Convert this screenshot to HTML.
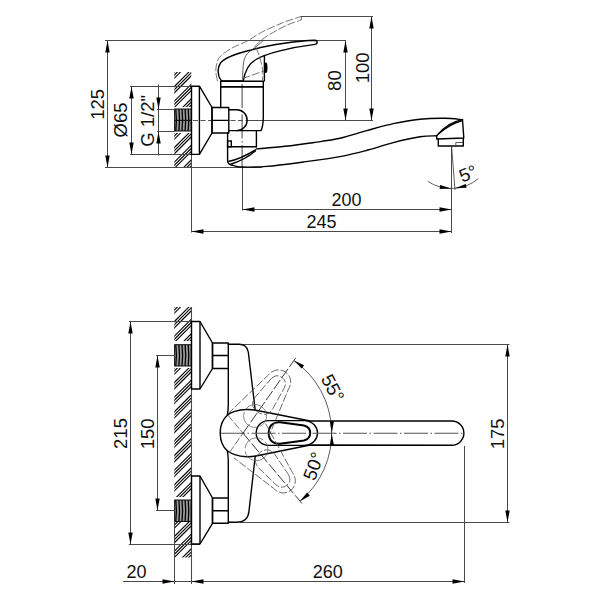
<!DOCTYPE html><html><head><meta charset="utf-8"><style>html,body{margin:0;padding:0;background:#fff;}svg{display:block}.t{stroke:#4a4a4a;stroke-width:1.05;fill:none}.k{stroke:#000;stroke-width:1.4;fill:none;stroke-linejoin:round;stroke-linecap:round}.m{stroke:#000;stroke-width:1.4;fill:none}.d{stroke:#555;stroke-width:0.8;fill:none;stroke-dasharray:8 2}.ts{stroke:#333;stroke-width:0.8;fill:none}.c{stroke:#555;stroke-width:1.1;fill:none;stroke-dasharray:24 2.5 1.5 2.5}.ar{fill:#000;stroke:none}.h line{stroke:#000;stroke-width:1.1}text{font-family:"Liberation Sans", sans-serif;fill:#111}</style></head><body>
<svg width="600" height="600" viewBox="0 0 600 600">
<rect width="600" height="600" fill="#fff"/>
<clipPath id="h1"><rect x="174.3" y="72" width="17.0" height="35"/></clipPath>
<g clip-path="url(#h1)" class="h">
<line x1="169.3" y1="62.400000000000006" x2="196.3" y2="35.400000000000006"/>
<line x1="169.3" y1="65.5" x2="196.3" y2="38.5"/>
<line x1="169.3" y1="68.6" x2="196.3" y2="41.599999999999994"/>
<line x1="169.3" y1="77.0" x2="196.3" y2="50.0"/>
<line x1="169.3" y1="80.1" x2="196.3" y2="53.099999999999994"/>
<line x1="169.3" y1="83.19999999999999" x2="196.3" y2="56.19999999999999"/>
<line x1="169.3" y1="91.60000000000002" x2="196.3" y2="64.60000000000002"/>
<line x1="169.3" y1="94.70000000000005" x2="196.3" y2="67.70000000000005"/>
<line x1="169.3" y1="97.80000000000001" x2="196.3" y2="70.80000000000001"/>
<line x1="169.3" y1="106.20000000000005" x2="196.3" y2="79.20000000000005"/>
<line x1="169.3" y1="109.30000000000007" x2="196.3" y2="82.30000000000007"/>
<line x1="169.3" y1="112.40000000000003" x2="196.3" y2="85.40000000000003"/>
<line x1="169.3" y1="120.80000000000007" x2="196.3" y2="93.80000000000007"/>
<line x1="169.3" y1="123.90000000000009" x2="196.3" y2="96.90000000000009"/>
<line x1="169.3" y1="127.00000000000006" x2="196.3" y2="100.00000000000006"/>
<line x1="169.3" y1="135.4000000000001" x2="196.3" y2="108.40000000000009"/>
<line x1="169.3" y1="138.5000000000001" x2="196.3" y2="111.50000000000011"/>
<line x1="169.3" y1="141.60000000000008" x2="196.3" y2="114.60000000000008"/>
</g>
<clipPath id="h2"><rect x="174.3" y="133" width="17.0" height="34"/></clipPath>
<g clip-path="url(#h2)" class="h">
<line x1="169.3" y1="123.39999999999998" x2="196.3" y2="96.39999999999998"/>
<line x1="169.3" y1="126.5" x2="196.3" y2="99.5"/>
<line x1="169.3" y1="129.59999999999997" x2="196.3" y2="102.59999999999997"/>
<line x1="169.3" y1="138.0" x2="196.3" y2="111.0"/>
<line x1="169.3" y1="141.10000000000002" x2="196.3" y2="114.10000000000002"/>
<line x1="169.3" y1="144.2" x2="196.3" y2="117.19999999999999"/>
<line x1="169.3" y1="152.60000000000002" x2="196.3" y2="125.60000000000002"/>
<line x1="169.3" y1="155.70000000000005" x2="196.3" y2="128.70000000000005"/>
<line x1="169.3" y1="158.8" x2="196.3" y2="131.8"/>
<line x1="169.3" y1="167.20000000000005" x2="196.3" y2="140.20000000000005"/>
<line x1="169.3" y1="170.30000000000007" x2="196.3" y2="143.30000000000007"/>
<line x1="169.3" y1="173.40000000000003" x2="196.3" y2="146.40000000000003"/>
<line x1="169.3" y1="181.80000000000007" x2="196.3" y2="154.80000000000007"/>
<line x1="169.3" y1="184.9000000000001" x2="196.3" y2="157.9000000000001"/>
<line x1="169.3" y1="188.00000000000006" x2="196.3" y2="161.00000000000006"/>
<line x1="169.3" y1="196.4000000000001" x2="196.3" y2="169.4000000000001"/>
<line x1="169.3" y1="199.5000000000001" x2="196.3" y2="172.5000000000001"/>
<line x1="169.3" y1="202.60000000000008" x2="196.3" y2="175.60000000000008"/>
</g>
<rect x="174.6" y="109" width="16.599999999999994" height="22" fill="#9a9a9a" stroke="#111" stroke-width="1"/>
<path d="M175.80,109 L176.40,120.00 L175.80,131" stroke="#000" stroke-width="1.3" fill="none"/>
<path d="M178.90,109 L179.50,120.00 L178.90,131" stroke="#000" stroke-width="1.3" fill="none"/>
<path d="M182.00,109 L182.60,120.00 L182.00,131" stroke="#000" stroke-width="1.3" fill="none"/>
<path d="M185.10,109 L185.70,120.00 L185.10,131" stroke="#000" stroke-width="1.3" fill="none"/>
<path d="M188.20,109 L188.80,120.00 L188.20,131" stroke="#000" stroke-width="1.3" fill="none"/>
<line x1="191.5" y1="86" x2="191.5" y2="232.5" class="t"/>
<line x1="105" y1="40.5" x2="346" y2="40.5" class="t"/>
<line x1="301" y1="16.5" x2="373" y2="16.5" class="t"/>
<line x1="105" y1="167.5" x2="262" y2="167.5" class="t"/>
<line x1="130" y1="86.5" x2="199" y2="86.5" class="t"/>
<line x1="130" y1="154.5" x2="199" y2="154.5" class="t"/>
<line x1="157" y1="109.5" x2="175" y2="109.5" class="t"/>
<line x1="157" y1="131.5" x2="175" y2="131.5" class="t"/>
<line x1="247" y1="120.5" x2="373" y2="120.5" class="t"/>
<line x1="242.5" y1="166" x2="242.5" y2="210.5" class="t"/>
<line x1="451.5" y1="147" x2="451.5" y2="233" class="t"/>
<line x1="107.5" y1="40.5" x2="107.5" y2="167.5" class="t"/>
<path d="M107.50,40.50 L109.70,52.50 L105.30,52.50 Z" class="ar"/>
<path d="M107.50,167.50 L105.30,155.50 L109.70,155.50 Z" class="ar"/>
<line x1="131.5" y1="86.5" x2="131.5" y2="154.5" class="t"/>
<path d="M131.50,86.50 L133.70,98.50 L129.30,98.50 Z" class="ar"/>
<path d="M131.50,154.50 L129.30,142.50 L133.70,142.50 Z" class="ar"/>
<line x1="158.5" y1="84.5" x2="158.5" y2="155.5" class="t"/>
<path d="M158.50,109.50 L156.30,97.50 L160.70,97.50 Z" class="ar"/>
<path d="M158.50,131.50 L160.70,143.50 L156.30,143.50 Z" class="ar"/>
<line x1="345.5" y1="40.5" x2="345.5" y2="120.5" class="t"/>
<path d="M345.50,40.50 L347.70,52.50 L343.30,52.50 Z" class="ar"/>
<path d="M345.50,120.50 L343.30,108.50 L347.70,108.50 Z" class="ar"/>
<line x1="371.5" y1="16.5" x2="371.5" y2="120.5" class="t"/>
<path d="M371.50,16.50 L373.70,28.50 L369.30,28.50 Z" class="ar"/>
<path d="M371.50,120.50 L369.30,108.50 L373.70,108.50 Z" class="ar"/>
<line x1="242.5" y1="209.5" x2="451.5" y2="209.5" class="t"/>
<path d="M242.50,209.50 L254.50,207.30 L254.50,211.70 Z" class="ar"/>
<path d="M451.50,209.50 L439.50,211.70 L439.50,207.30 Z" class="ar"/>
<line x1="191.5" y1="231.5" x2="451.5" y2="231.5" class="t"/>
<path d="M191.50,231.50 L203.50,229.30 L203.50,233.70 Z" class="ar"/>
<path d="M451.50,231.50 L439.50,233.70 L439.50,229.30 Z" class="ar"/>
<path d="M175,120.4 L191,120.4" stroke="#111" stroke-width="1.2"/>
<path d="M193,120.5 L247,120.5" class="c" style="stroke-dasharray:5 2.5"/>
<path d="M242.1,84 L242.1,166" class="c"/>
<path d="M191.3,86.2 L199.4,86.2 L212,107.5 L212,133 L199.4,154.4 L191.3,154.4" class="k"/>
<line x1="199.4" y1="86.2" x2="199.4" y2="154.4" class="m"/>
<line x1="191.5" y1="86.2" x2="191.5" y2="154.4" class="m"/>
<rect x="212" y="107.5" width="16.8" height="25.5" class="k"/>
<line x1="212" y1="120.4" x2="228.8" y2="120.4" class="k"/>
<path d="M228.8,109.7 L236.7,109.7 A10.45,10.45 0 0 1 236.7,130.6 L228.8,130.6" class="k"/>
<path d="M220.7,107.5 L220.7,86.7 L263.3,86.7 L263.3,117.5 Q263,127 261,130.6 L236.5,130.6" class="k"/>
<rect x="220.7" y="81.3" width="42.6" height="5.4" class="k"/>
<path d="M227.6,133 L227.6,160.7 Q228,165 232.5,165.3" class="k"/>
<line x1="256.4" y1="130.6" x2="256.4" y2="146.7" class="k"/>
<line x1="227.6" y1="146.7" x2="256.4" y2="146.7" class="k"/>
<rect x="227.6" y="141" width="3.7" height="5.7" class="m"/>
<path d="M228.2,161.5 Q239.5,159.6 255.9,149.7" class="m"/>
<path d="M229.8,164.4 Q245.1,160.1 255.9,150.5" class="m"/>
<path d="M256.4,148.9 C261.17,148.47 275.63,147.33 285,146.3 C294.37,145.27 303.43,144.03 312.6,142.7 C321.77,141.37 330.98,140.32 340,138.3 C349.02,136.28 357.82,133.05 366.7,130.6 C375.58,128.15 384.42,125.50 393.3,123.6 C402.18,121.70 411.38,120.08 420,119.2 C428.62,118.32 437.92,118.22 445,118.3 C452.08,118.38 459.58,119.47 462.5,119.7" class="k"/>
<path d="M232.5,165.3 C233.92,165.58 235.30,166.82 241,167 C246.70,167.18 256.30,167.23 266.7,166.4 C277.10,165.57 291.18,163.63 303.4,162 C315.62,160.37 329.23,158.60 340,156.6 C350.77,154.60 359.12,152.33 368,150 C376.88,147.67 384.63,144.80 393.3,142.6 C401.97,140.40 412.77,137.93 420,136.8 C427.23,135.67 433.92,135.97 436.7,135.8" class="k"/>
<path d="M436.7,135.8 L436.7,139 L463.8,138 L462.5,119.7 Q448,122 436.7,135.8 Z" class="k"/>
<path d="M439,133.5 Q450,124 461.7,120.8" class="m"/>
<path d="M438.3,139 L438.3,146 L463.3,146 L463.3,138" class="k"/>
<path d="M455.8,142.5 L463,142.5 M455.8,142.5 L455.8,145" class="ts"/>
<line x1="451.6" y1="146.5" x2="455" y2="190" class="ts"/>
<path d="M427.81,181.32 A42,42 0 0 0 478.30,178.67" class="ts"/>
<path d="M451.30,188.50 L439.64,188.98 L440.16,185.02 Z" class="ar"/>
<path d="M454.96,188.34 L465.76,183.90 L466.62,187.80 Z" class="ar"/>
<path d="M315,40.3 C300,40.8 270,44.5 250,50.3 C235,54 225,57.5 220.5,63 C217,68 217.5,76 221.3,80.7 L243.3,81 C244.5,73 248,64 256,59.5 C266,53.5 290,47.5 315,44.4 A2.05,2.05 0 0 0 315,40.3 Z" class="k"/>
<ellipse cx="265.9" cy="67.8" rx="1.6" ry="5.2" fill="#000"/>
<line x1="264.4" y1="55" x2="264.4" y2="81.5" class="m"/>
<path d="M217.5,81 C217.22,79.33 215.85,74.17 215.8,71 C215.75,67.83 216.37,64.53 217.2,62 C218.03,59.47 218.38,58.10 220.8,55.8 C223.22,53.50 227.18,50.73 231.7,48.2 C236.22,45.67 242.90,43.27 247.9,40.6 C252.90,37.93 255.80,35.22 261.7,32.2 C267.60,29.18 276.70,25.13 283.3,22.5 C289.90,19.87 298.30,17.42 301.3,16.4" class="d"/>
<path d="M254.4,46.8 C255.67,45.58 258.98,41.83 262,39.5 C265.02,37.17 268.50,35.13 272.5,32.8 C276.50,30.47 281.20,27.65 286,25.5 C290.80,23.35 298.75,20.83 301.3,19.9" class="d"/>
<line x1="301.3" y1="16.4" x2="301.3" y2="19.9" class="ts"/>
<path d="M242.5,80.5 C242.58,78.42 242.65,71.67 243,68 C243.35,64.33 243.68,61.08 244.6,58.5 C245.52,55.92 246.60,54.45 248.5,52.5 C250.40,50.55 253.48,48.85 256,46.8 C258.52,44.75 262.33,41.30 263.6,40.2" class="ts"/>
<path d="M242.5,78.5 L264.2,70.9" class="d"/>
<path d="M256,47.5 C256.50,48.75 258.08,52.25 259,55 C259.92,57.75 260.87,61.12 261.5,64 C262.13,66.88 262.67,69.47 262.8,72.3 C262.93,75.13 262.38,79.55 262.3,81" class="d"/>
<text x="97.5" y="104.3" font-size="18.5" text-anchor="middle" dominant-baseline="central" transform="rotate(-90 97.5 104.3)">125</text>
<text x="120" y="120" font-size="18.5" text-anchor="middle" dominant-baseline="central" transform="rotate(-90 120 120)">Ø65</text>
<text x="147.5" y="120.8" font-size="18.5" text-anchor="middle" dominant-baseline="central" transform="rotate(-90 147.5 120.8)">G 1/2"</text>
<text x="334.8" y="80.6" font-size="18.5" text-anchor="middle" dominant-baseline="central" transform="rotate(-90 334.8 80.6)">80</text>
<text x="362.5" y="67.8" font-size="18.5" text-anchor="middle" dominant-baseline="central" transform="rotate(-90 362.5 67.8)">100</text>
<text x="346.4" y="200.2" font-size="18" text-anchor="middle" dominant-baseline="central">200</text>
<text x="321.4" y="221.8" font-size="18" text-anchor="middle" dominant-baseline="central">245</text>
<text x="468" y="173.5" font-size="18.5" text-anchor="middle" dominant-baseline="central" transform="rotate(-22 468 173.5)">5°</text>
<clipPath id="h3"><rect x="174.3" y="307" width="17.0" height="34"/></clipPath>
<g clip-path="url(#h3)" class="h">
<line x1="169.3" y1="297.4" x2="196.3" y2="270.4"/>
<line x1="169.3" y1="300.5" x2="196.3" y2="273.5"/>
<line x1="169.3" y1="303.59999999999997" x2="196.3" y2="276.59999999999997"/>
<line x1="169.3" y1="312.0" x2="196.3" y2="285.0"/>
<line x1="169.3" y1="315.1" x2="196.3" y2="288.1"/>
<line x1="169.3" y1="318.2" x2="196.3" y2="291.2"/>
<line x1="169.3" y1="326.6" x2="196.3" y2="299.6"/>
<line x1="169.3" y1="329.70000000000005" x2="196.3" y2="302.70000000000005"/>
<line x1="169.3" y1="332.8" x2="196.3" y2="305.8"/>
<line x1="169.3" y1="341.20000000000005" x2="196.3" y2="314.20000000000005"/>
<line x1="169.3" y1="344.3" x2="196.3" y2="317.3"/>
<line x1="169.3" y1="347.40000000000003" x2="196.3" y2="320.40000000000003"/>
<line x1="169.3" y1="355.8" x2="196.3" y2="328.8"/>
<line x1="169.3" y1="358.90000000000003" x2="196.3" y2="331.90000000000003"/>
<line x1="169.3" y1="362.00000000000006" x2="196.3" y2="335.00000000000006"/>
<line x1="169.3" y1="370.40000000000003" x2="196.3" y2="343.40000000000003"/>
<line x1="169.3" y1="373.50000000000006" x2="196.3" y2="346.50000000000006"/>
<line x1="169.3" y1="376.6000000000001" x2="196.3" y2="349.6000000000001"/>
</g>
<clipPath id="h4"><rect x="174.3" y="368" width="17.0" height="129"/></clipPath>
<g clip-path="url(#h4)" class="h">
<line x1="169.3" y1="358.3999999999999" x2="196.3" y2="331.3999999999999"/>
<line x1="169.3" y1="361.49999999999994" x2="196.3" y2="334.49999999999994"/>
<line x1="169.3" y1="364.59999999999997" x2="196.3" y2="337.59999999999997"/>
<line x1="169.3" y1="372.99999999999994" x2="196.3" y2="345.99999999999994"/>
<line x1="169.3" y1="376.09999999999997" x2="196.3" y2="349.09999999999997"/>
<line x1="169.3" y1="379.2" x2="196.3" y2="352.2"/>
<line x1="169.3" y1="387.59999999999997" x2="196.3" y2="360.59999999999997"/>
<line x1="169.3" y1="390.7" x2="196.3" y2="363.7"/>
<line x1="169.3" y1="393.8" x2="196.3" y2="366.8"/>
<line x1="169.3" y1="402.2" x2="196.3" y2="375.2"/>
<line x1="169.3" y1="405.3" x2="196.3" y2="378.3"/>
<line x1="169.3" y1="408.40000000000003" x2="196.3" y2="381.40000000000003"/>
<line x1="169.3" y1="416.8" x2="196.3" y2="389.8"/>
<line x1="169.3" y1="419.90000000000003" x2="196.3" y2="392.90000000000003"/>
<line x1="169.3" y1="423.00000000000006" x2="196.3" y2="396.00000000000006"/>
<line x1="169.3" y1="431.40000000000003" x2="196.3" y2="404.40000000000003"/>
<line x1="169.3" y1="434.50000000000006" x2="196.3" y2="407.50000000000006"/>
<line x1="169.3" y1="437.6000000000001" x2="196.3" y2="410.6000000000001"/>
<line x1="169.3" y1="446.00000000000006" x2="196.3" y2="419.00000000000006"/>
<line x1="169.3" y1="449.1000000000001" x2="196.3" y2="422.1000000000001"/>
<line x1="169.3" y1="452.2000000000001" x2="196.3" y2="425.2000000000001"/>
<line x1="169.3" y1="460.6000000000001" x2="196.3" y2="433.6000000000001"/>
<line x1="169.3" y1="463.7000000000001" x2="196.3" y2="436.7000000000001"/>
<line x1="169.3" y1="466.8000000000001" x2="196.3" y2="439.8000000000001"/>
<line x1="169.3" y1="475.2000000000001" x2="196.3" y2="448.2000000000001"/>
<line x1="169.3" y1="478.3000000000001" x2="196.3" y2="451.3000000000001"/>
<line x1="169.3" y1="481.40000000000015" x2="196.3" y2="454.40000000000015"/>
<line x1="169.3" y1="489.8000000000001" x2="196.3" y2="462.8000000000001"/>
<line x1="169.3" y1="492.90000000000015" x2="196.3" y2="465.90000000000015"/>
<line x1="169.3" y1="496.00000000000017" x2="196.3" y2="469.00000000000017"/>
<line x1="169.3" y1="504.40000000000015" x2="196.3" y2="477.40000000000015"/>
<line x1="169.3" y1="507.50000000000017" x2="196.3" y2="480.50000000000017"/>
<line x1="169.3" y1="510.6000000000002" x2="196.3" y2="483.6000000000002"/>
<line x1="169.3" y1="519.0000000000002" x2="196.3" y2="492.00000000000017"/>
<line x1="169.3" y1="522.1000000000001" x2="196.3" y2="495.1000000000002"/>
<line x1="169.3" y1="525.2000000000003" x2="196.3" y2="498.2000000000002"/>
</g>
<clipPath id="h5"><rect x="174.3" y="522" width="17.0" height="35.5"/></clipPath>
<g clip-path="url(#h5)" class="h">
<line x1="169.3" y1="512.3999999999999" x2="196.3" y2="485.3999999999999"/>
<line x1="169.3" y1="515.5" x2="196.3" y2="488.49999999999994"/>
<line x1="169.3" y1="518.5999999999999" x2="196.3" y2="491.59999999999997"/>
<line x1="169.3" y1="527.0" x2="196.3" y2="499.99999999999994"/>
<line x1="169.3" y1="530.0999999999999" x2="196.3" y2="503.09999999999997"/>
<line x1="169.3" y1="533.2" x2="196.3" y2="506.2"/>
<line x1="169.3" y1="541.5999999999999" x2="196.3" y2="514.5999999999999"/>
<line x1="169.3" y1="544.7" x2="196.3" y2="517.7"/>
<line x1="169.3" y1="547.8" x2="196.3" y2="520.8"/>
<line x1="169.3" y1="556.2" x2="196.3" y2="529.2"/>
<line x1="169.3" y1="559.3" x2="196.3" y2="532.3"/>
<line x1="169.3" y1="562.4000000000001" x2="196.3" y2="535.4000000000001"/>
<line x1="169.3" y1="570.8" x2="196.3" y2="543.8"/>
<line x1="169.3" y1="573.9000000000001" x2="196.3" y2="546.9000000000001"/>
<line x1="169.3" y1="577.0" x2="196.3" y2="550.0"/>
<line x1="169.3" y1="585.4000000000001" x2="196.3" y2="558.4000000000001"/>
<line x1="169.3" y1="588.5" x2="196.3" y2="561.5"/>
<line x1="169.3" y1="591.6000000000001" x2="196.3" y2="564.6000000000001"/>
</g>
<rect x="174.6" y="344.7" width="16.599999999999994" height="21.30000000000001" fill="#9a9a9a" stroke="#111" stroke-width="1"/>
<path d="M175.80,344.7 L176.40,355.35 L175.80,366" stroke="#000" stroke-width="1.3" fill="none"/>
<path d="M178.90,344.7 L179.50,355.35 L178.90,366" stroke="#000" stroke-width="1.3" fill="none"/>
<path d="M182.00,344.7 L182.60,355.35 L182.00,366" stroke="#000" stroke-width="1.3" fill="none"/>
<path d="M185.10,344.7 L185.70,355.35 L185.10,366" stroke="#000" stroke-width="1.3" fill="none"/>
<path d="M188.20,344.7 L188.80,355.35 L188.20,366" stroke="#000" stroke-width="1.3" fill="none"/>
<rect x="174.6" y="500" width="16.599999999999994" height="21.5" fill="#9a9a9a" stroke="#111" stroke-width="1"/>
<path d="M175.80,500 L176.40,510.75 L175.80,521.5" stroke="#000" stroke-width="1.3" fill="none"/>
<path d="M178.90,500 L179.50,510.75 L178.90,521.5" stroke="#000" stroke-width="1.3" fill="none"/>
<path d="M182.00,500 L182.60,510.75 L182.00,521.5" stroke="#000" stroke-width="1.3" fill="none"/>
<path d="M185.10,500 L185.70,510.75 L185.10,521.5" stroke="#000" stroke-width="1.3" fill="none"/>
<path d="M188.20,500 L188.80,510.75 L188.20,521.5" stroke="#000" stroke-width="1.3" fill="none"/>
<line x1="191.5" y1="307" x2="191.5" y2="584" class="t"/>
<line x1="174.5" y1="521.5" x2="174.5" y2="584" class="t"/>
<line x1="129" y1="321.5" x2="200" y2="321.5" class="t"/>
<line x1="128.8" y1="544.5" x2="200" y2="544.5" class="t"/>
<line x1="156" y1="355.5" x2="175" y2="355.5" class="t"/>
<line x1="156" y1="510.5" x2="175" y2="510.5" class="t"/>
<line x1="242" y1="344.5" x2="509.5" y2="344.5" class="t"/>
<line x1="240" y1="522.5" x2="509.5" y2="522.5" class="t"/>
<line x1="464.5" y1="446" x2="464.5" y2="583" class="t"/>
<line x1="130.5" y1="321.5" x2="130.5" y2="544.5" class="t"/>
<path d="M130.50,321.50 L132.70,333.50 L128.30,333.50 Z" class="ar"/>
<path d="M130.50,544.50 L128.30,532.50 L132.70,532.50 Z" class="ar"/>
<line x1="157.5" y1="355.5" x2="157.5" y2="510.5" class="t"/>
<path d="M157.50,355.50 L159.70,367.50 L155.30,367.50 Z" class="ar"/>
<path d="M157.50,510.50 L155.30,498.50 L159.70,498.50 Z" class="ar"/>
<line x1="507.5" y1="344.5" x2="507.5" y2="522.5" class="t"/>
<path d="M507.50,344.50 L509.70,356.50 L505.30,356.50 Z" class="ar"/>
<path d="M507.50,522.50 L505.30,510.50 L509.70,510.50 Z" class="ar"/>
<line x1="123" y1="581.5" x2="464.2" y2="581.5" class="t"/>
<path d="M174.50,581.50 L162.50,583.70 L162.50,579.30 Z" class="ar"/>
<path d="M191.50,581.50 L203.50,579.30 L203.50,583.70 Z" class="ar"/>
<path d="M464.50,581.50 L452.50,583.70 L452.50,579.30 Z" class="ar"/>
<path d="M191.3,321.5 L200,321.5 L212.5,343 L212.5,368.5 L200,389 L191.3,389" class="k"/>
<line x1="200" y1="321.5" x2="200" y2="389" class="m"/>
<line x1="191.5" y1="321.5" x2="191.5" y2="389" class="m"/>
<rect x="212.5" y="343" width="15.8" height="25.5" class="k"/>
<line x1="212.5" y1="355.5" x2="228.3" y2="355.5" class="k"/>
<path d="M191.3,476 L200,476 L212.5,498 L212.5,523.3 L200,544 L191.3,544" class="k"/>
<line x1="200" y1="476" x2="200" y2="544" class="m"/>
<line x1="191.5" y1="476" x2="191.5" y2="544" class="m"/>
<rect x="212.5" y="498" width="15.8" height="25.299999999999955" class="k"/>
<line x1="212.5" y1="510.8" x2="228.3" y2="510.8" class="k"/>
<path d="M228.3,344.3 L239,344.3 Q247,344.5 248.3,352 L255.2,410" class="k"/>
<path d="M228.3,522.3 L236,522.3 Q248,522.5 249,511 L255.2,456.5" class="k"/>
<path d="M228.3,368.5 L228.3,405 Q228.2,411 227.3,415.2" class="k"/>
<path d="M227.3,450.8 Q228.2,455 228.3,461 L228.3,497.5" class="k"/>
<path d="M227.3,415.2 C230,412.5 238,409.8 246.5,409.5 C250,409.4 253,409.7 256,410.2 L310.2,421 L451.8,421 A12.1,12.1 0 0 1 451.8,445.2 L310.2,445 L256,456 C253,456.6 250,456.9 246.5,456.8 C238,456.5 230,453.5 227.3,450.8 C222,446 220.2,439 220.2,433 C220.2,427 222,420 227.3,415.2 Z" class="k"/>
<path d="M268.5,420.6 L305,420.6 C313,421.2 317.5,427 317.5,433 C317.5,439 313,444.8 305,445.2 L268.5,445.4 C261.5,445.4 256.2,440 256.2,433 C256.2,426 261.5,420.6 268.5,420.6 Z" class="m"/>
<path d="M310.2,433 C310.2,429 308,426.5 304,425.5 L280,422.3 C273,421.6 268.7,426 268.7,433 C268.7,440 273,444.4 280,443.7 L304,440.5 C308,439.5 310.2,437 310.2,433 Z" stroke="#000" stroke-width="2.0" fill="none"/>
<path d="M221,433.2 L463,433.2" class="c"/>
<path d="M293.88,360.54 A88.7,88.7 0 0 1 300.02,501.15" class="ts"/>
<path d="M293.88,360.54 L304.09,365.13 L301.68,368.57 Z" class="ar"/>
<path d="M300.02,501.15 L307.09,492.47 L309.79,495.69 Z" class="ar"/>
<path d="M331.70,433.20 L329.94,421.16 L333.94,421.24 Z" class="ar"/>
<path d="M331.70,433.20 L333.94,445.16 L329.94,445.24 Z" class="ar"/>
<path d="M229.23,452.86 L243,433.2" class="d"/>
<path d="M227.57,414.81 L243,433.2" class="d"/>
<path d="M243,433.2 L295.60,358.08" stroke="#222" stroke-width="0.9" fill="none" stroke-dasharray="11 2.5"/>
<path d="M243,433.2 L301.94,503.45" stroke="#222" stroke-width="0.9" fill="none" stroke-dasharray="11 2.5"/>
<g transform="rotate(-55 243 433.2)">
<path d="M250,409.7 L305,420.6 C313,421.2 317.5,427 317.5,433 C317.5,439 313,444.8 305,445.2 L256,456" class="d"/>
<path d="M304,425 C309,426 311,429 311,433 C311,437 309,440 304,441 L280,443.5 C273,444 268.7,440 268.7,433 C268.7,426 273,422 280,422.5 Z" class="d"/>
<circle cx="264" cy="433.2" r="11.5" stroke="#666" stroke-width="0.7" fill="none" stroke-dasharray="24 3"/>
</g>
<g transform="rotate(50 243 433.2)">
<path d="M250,409.7 L305,420.6 C313,421.2 317.5,427 317.5,433 C317.5,439 313,444.8 305,445.2 L256,456" class="d"/>
<path d="M304,425 C309,426 311,429 311,433 C311,437 309,440 304,441 L280,443.5 C273,444 268.7,440 268.7,433 C268.7,426 273,422 280,422.5 Z" class="d"/>
<circle cx="264" cy="433.2" r="11.5" stroke="#666" stroke-width="0.7" fill="none" stroke-dasharray="24 3"/>
</g>
<text x="332.8" y="388" font-size="18.5" text-anchor="middle" dominant-baseline="central" transform="rotate(62 332.8 388)">55°</text>
<text x="313.5" y="466" font-size="18.5" text-anchor="middle" dominant-baseline="central" transform="rotate(-70 313.5 466)">50°</text>
<text x="120" y="433.5" font-size="18.5" text-anchor="middle" dominant-baseline="central" transform="rotate(-90 120 433.5)">215</text>
<text x="147.5" y="433.8" font-size="18.5" text-anchor="middle" dominant-baseline="central" transform="rotate(-90 147.5 433.8)">150</text>
<text x="498" y="433.8" font-size="18.5" text-anchor="middle" dominant-baseline="central" transform="rotate(-90 498 433.8)">175</text>
<text x="136.6" y="571.6" font-size="18" text-anchor="middle" dominant-baseline="central">20</text>
<text x="327.8" y="571.6" font-size="18" text-anchor="middle" dominant-baseline="central">260</text>
</svg></body></html>
